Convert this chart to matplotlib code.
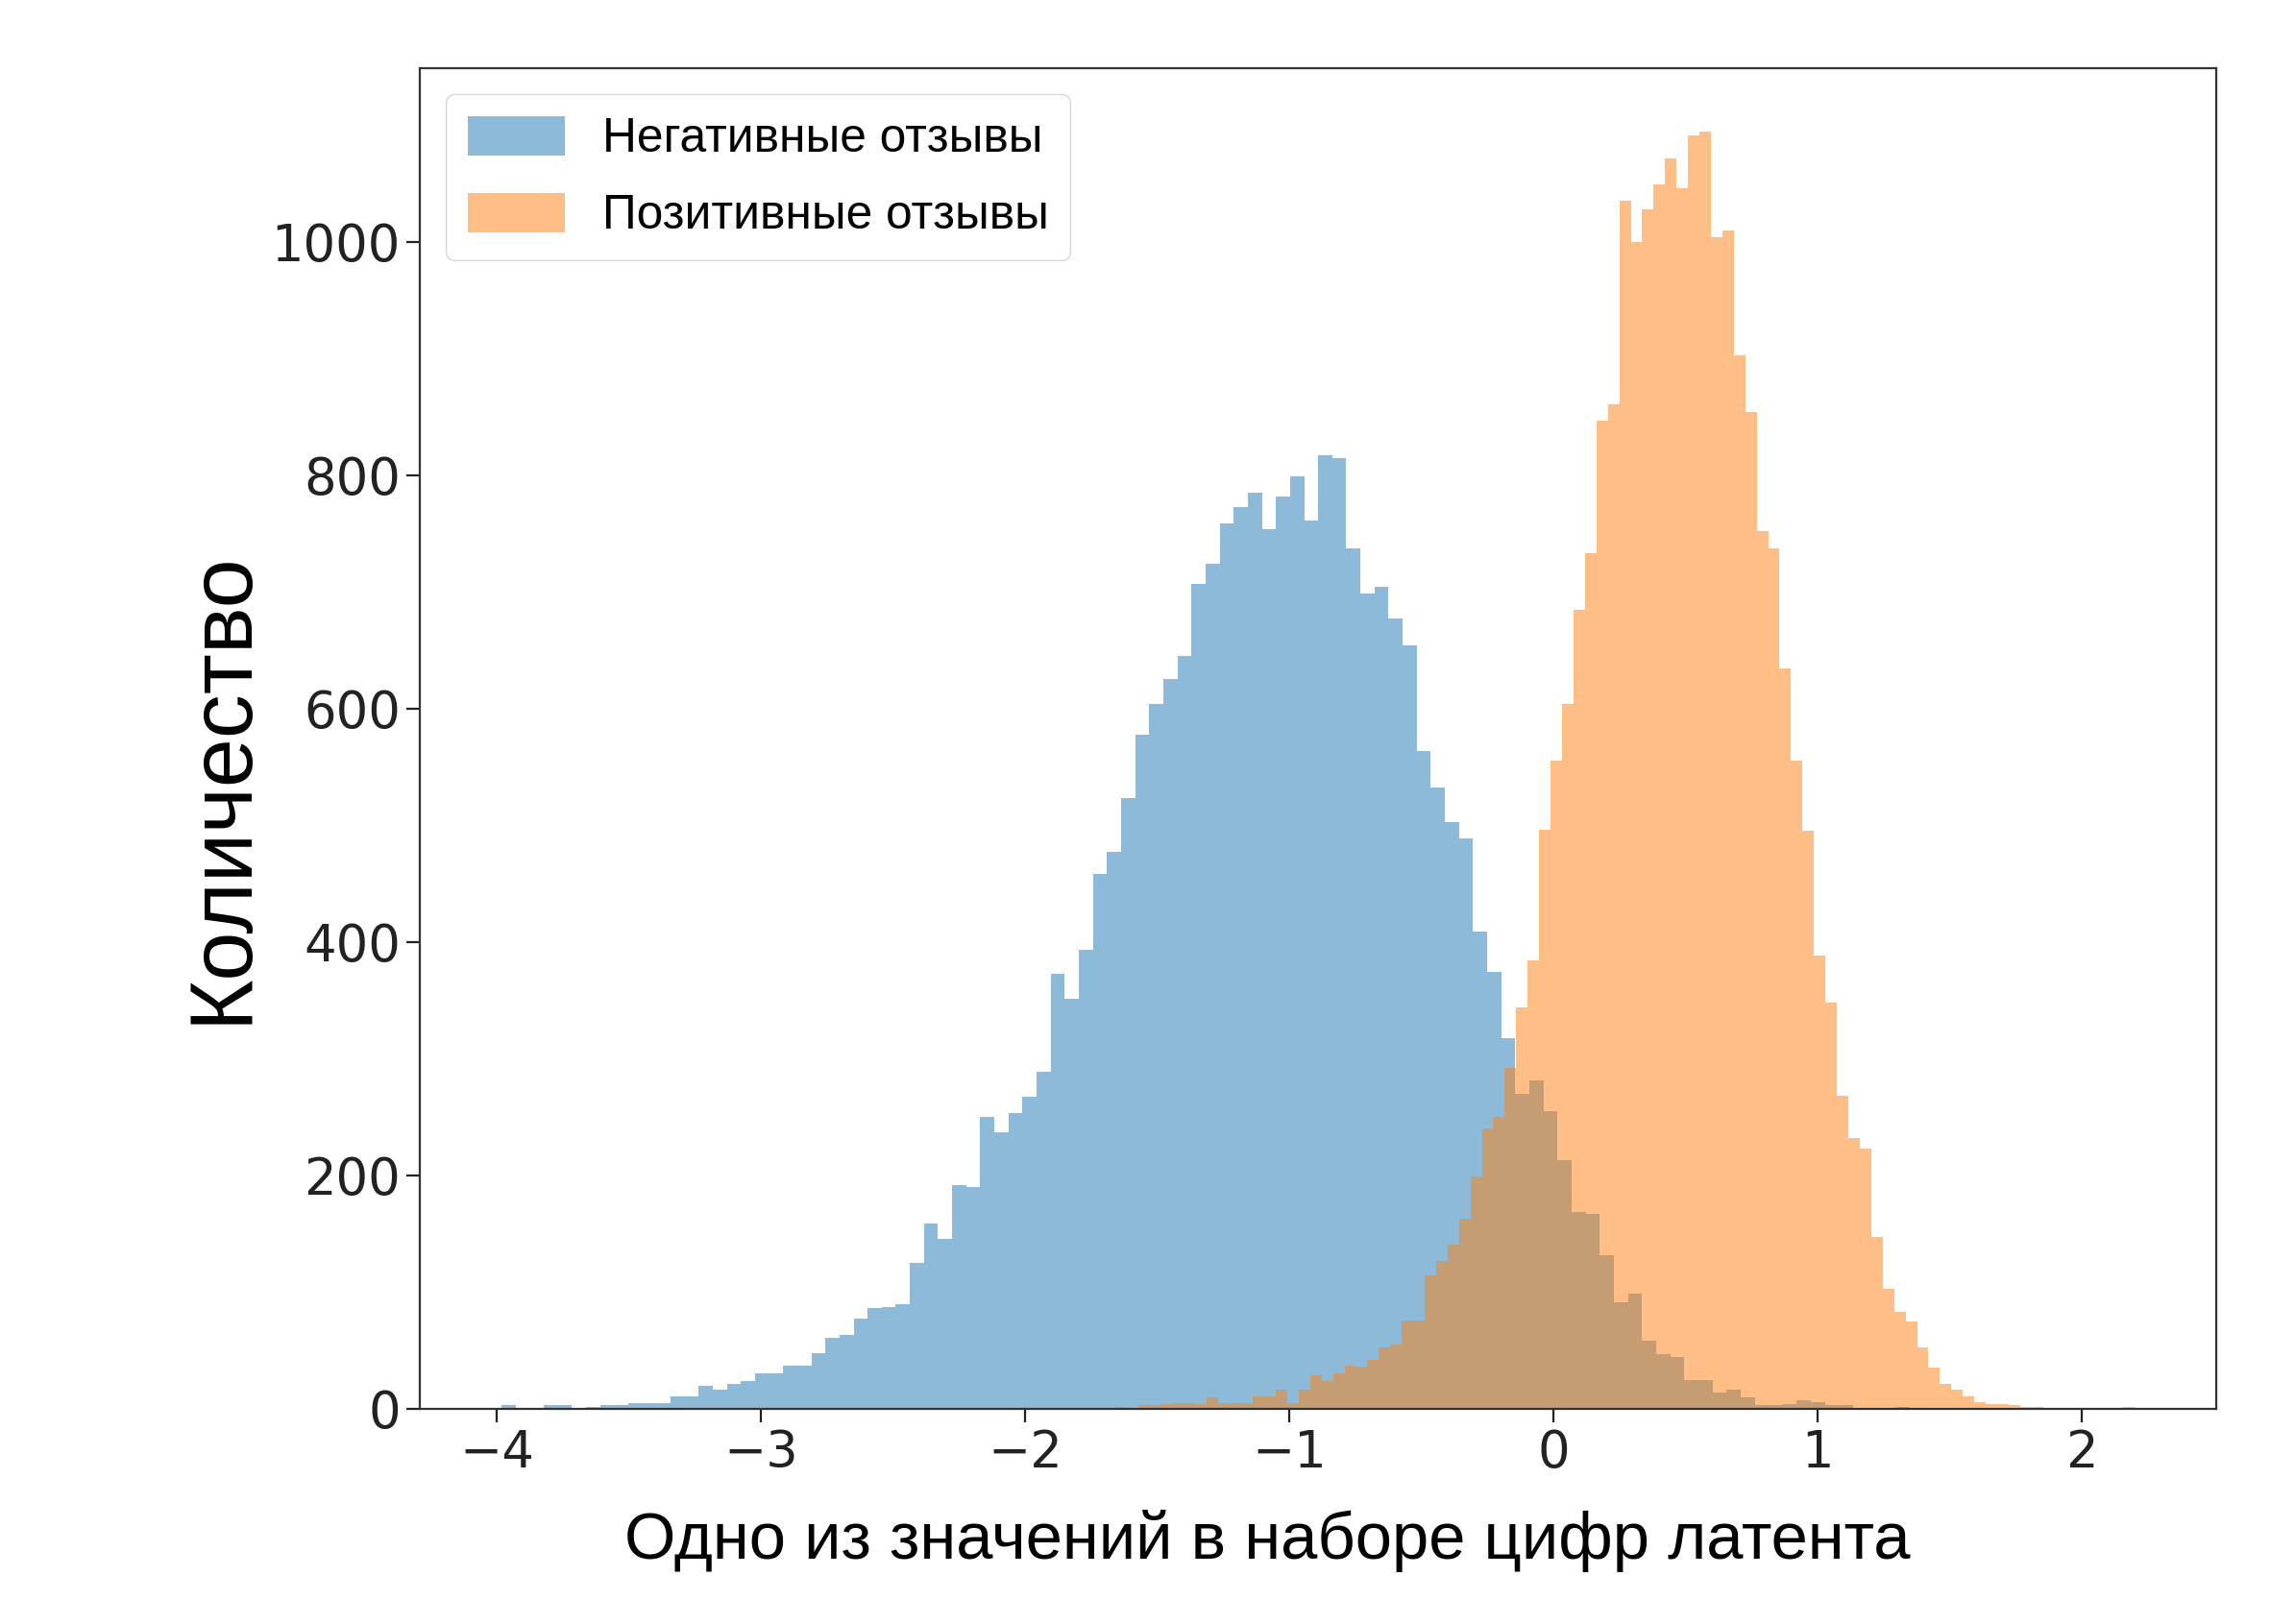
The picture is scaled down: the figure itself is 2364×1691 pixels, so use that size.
import numpy as np
import matplotlib
matplotlib.use("Agg")
import matplotlib.pyplot as plt

# Гистограммы (100 бинов)
neg_range = (-3.982, 1.348)
neg_counts = [
    3, 1, 1, 3, 3, 1, 2, 3, 3, 5,
    5, 5, 11, 11, 20, 16, 21, 24, 30, 30,
    37, 37, 48, 61, 63, 77, 86, 87, 90, 125,
    159, 146, 192, 190, 250, 237, 253, 267, 289, 373,
    351, 393, 458, 477, 523, 578, 604, 625, 645, 707,
    724, 759, 773, 785, 754, 782, 799, 761, 817, 815,
    737, 699, 704, 677, 654, 564, 532, 503, 489, 409,
    374, 318, 270, 281, 255, 213, 169, 167, 132, 91,
    99, 58, 47, 44, 25, 25, 14, 16, 10, 3,
    3, 4, 7, 6, 3, 3, 1, 1, 0, 2,
]

pos_range = (-2.135, 2.200)
pos_counts = [
    1, 0, 0, 1, 0, 1, 0, 1, 1, 1,
    1, 2, 1, 3, 3, 4, 5, 5, 4, 10,
    5, 5, 5, 11, 11, 16, 5, 16, 29, 24,
    30, 37, 36, 42, 53, 55, 76, 76, 114, 127,
    141, 163, 199, 240, 250, 292, 344, 384, 496, 555,
    604, 685, 733, 847, 861, 1035, 1000, 1028, 1049, 1071,
    1046, 1091, 1094, 1004, 1010, 903, 854, 752, 737, 634,
    555, 495, 388, 348, 268, 232, 223, 147, 103, 83,
    75, 53, 35, 21, 16, 11, 6, 4, 4, 3,
    2, 2, 1, 1, 1, 0, 0, 0, 0, 2,
]

labels = ["Негативные отзывы", "Позитивные отзывы"]
xlabel = "Одно из значений в наборе цифр латента"
ylabel = "Количество"

text_font = ["Liberation Sans", "DejaVu Sans"]

fig = plt.figure(figsize=(23.64, 16.91), dpi=100)
ax = fig.add_axes([0.1849, 0.1325, 0.7910, 0.8255])

for rng, counts, label in [(neg_range, neg_counts, labels[0]),
                           (pos_range, pos_counts, labels[1])]:
    edges = np.linspace(rng[0], rng[1], len(counts) + 1)
    ax.hist(edges[:-1], bins=edges, weights=counts, alpha=0.5, label=label)

ax.set_yticks([0, 200, 400, 600, 800, 1000])
ax.set_xticks([-4, -3, -2, -1, 0, 1, 2])
ax.tick_params(labelsize=38, length=10, width=1.6, pad=4.5, colors="#222222")
for sp in ax.spines.values():
    sp.set_linewidth(1.6)
    sp.set_color("#333333")

# подписи осей в оригинале чуть смещены от центра
ax.set_xlabel(xlabel, fontsize=49.5, family=text_font, labelpad=24)
ax.xaxis.label.set_x(0.4717)
ax.set_ylabel(ylabel, fontsize=66, family=text_font, labelpad=6)
ax.yaxis.label.set_y(0.4635)

ax.legend(loc="upper left", prop={"family": text_font, "size": 35.7},
          handlelength=2.05, handleheight=0.9, handletextpad=0.78,
          borderaxespad=0.55, borderpad=0.45, labelspacing=0.65)

plt.savefig("out.png", dpi=100)
